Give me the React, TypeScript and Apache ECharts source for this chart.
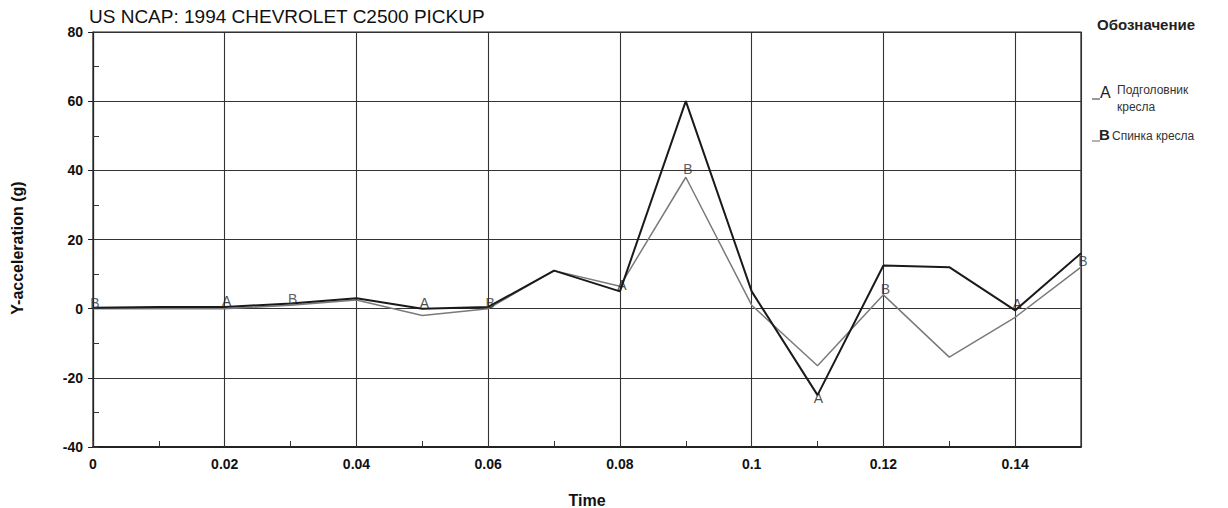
import React, { useEffect, useRef } from "react";
import * as echarts from "echarts";

const times = [0, 0.01, 0.02, 0.03, 0.04, 0.05, 0.06, 0.07, 0.08, 0.09, 0.1, 0.11, 0.12, 0.13, 0.14, 0.15];
const headRest = [0.3, 0.5, 0.5, 1.5, 3, 0, 0.5, 11, 5, 60, 5, -25, 12.5, 12, -0.5, 16];
const seatBack = [0, 0, 0, 1, 2.5, -2, 0, 11, 6.5, 38, 1, -16.5, 4, -14, -2.5, 12];
const markerA = [2, 5, 8, 11, 14]; // indices where "A" letter is drawn
const markerB = [0, 3, 6, 9, 12, 15]; // indices where "B" letter is drawn
const xTickLabels = ["0", "0.02", "0.04", "0.06", "0.08", "0.1", "0.12", "0.14"];
const title = "US NCAP: 1994 CHEVROLET C2500 PICKUP";
const yName = "Y-acceleration (g)";
const xName = "Time";
const legendTitle = "Обозначение";
const legendA = ["Подголовник", "кресла"];
const legendB = "Спинка кресла";

const FONT = "Liberation Sans, Arial, sans-serif";

export default function App() {
  const ref = useRef<HTMLDivElement>(null);
  useEffect(() => {
    if (!ref.current) return;
    const chart = echarts.init(ref.current, null, { renderer: "svg" });
    const lineA = times.map((t, i) => [t, headRest[i]]);
    const lineB = times.map((t, i) => [t, seatBack[i]]);
    const letter = (idx: number[], vals: number[], txt: string) =>
      idx.map((i) => ({
        value: [times[i], vals[i]],
        label: {
          show: true,
          formatter: txt,
          position: "inside",
          offset: vals[i] < -20 ? [1, 3] : vals[i] > 30 ? [2, -8] : [2, -6],
        },
      }));
    chart.setOption({
      animation: false,
      backgroundColor: "#fff",
      textStyle: { fontFamily: FONT },
      grid: {
        left: 93,
        right: 147,
        top: 32,
        bottom: 61,
        show: true,
        borderColor: "#222",
        borderWidth: 1.2,
        containLabel: false,
        outerBoundsMode: "none",
      },
      graphic: [
        { type: "text", left: 89, top: 7, style: { text: title, font: "19px " + FONT, fill: "#111" } },
        {
          type: "text",
          x: 17,
          y: 248,
          rotation: Math.PI / 2,
          style: { text: yName, font: "bold 16px " + FONT, fill: "#111", align: "center", verticalAlign: "middle" },
        },
        { type: "text", left: 1097, top: 17, style: { text: legendTitle, font: "bold 15px " + FONT, fill: "#222" } },
        { type: "line", shape: { x1: 1092, y1: 99, x2: 1100, y2: 99 }, style: { stroke: "#333", lineWidth: 1 } },
        { type: "text", left: 1100, top: 84, style: { text: "A", font: "16px " + FONT, fill: "#222" } },
        { type: "text", left: 1117, top: 84, style: { text: legendA[0], font: "12px " + FONT, fill: "#333" } },
        { type: "text", left: 1117, top: 101, style: { text: legendA[1], font: "12px " + FONT, fill: "#333" } },
        { type: "line", shape: { x1: 1092, y1: 141, x2: 1100, y2: 141 }, style: { stroke: "#666", lineWidth: 1 } },
        { type: "text", left: 1099, top: 127, style: { text: "B", font: "bold 15px " + FONT, fill: "#222" } },
        { type: "text", left: 1112, top: 130, style: { text: legendB, font: "12px " + FONT, fill: "#333" } },
      ],
      xAxis: [
        {
          type: "value",
          min: 0,
          max: 0.15,
          interval: 0.02,
          name: xName,
          nameLocation: "middle",
          nameGap: 45,
          nameTextStyle: { fontWeight: "bold", fontSize: 16, color: "#111", fontFamily: FONT },
          axisLine: { show: true, onZero: false, lineStyle: { color: "#222", width: 1.8 } },
          axisTick: { show: false },
          axisLabel: {
            color: "#111",
            fontSize: 14,
            fontWeight: "bold",
            fontFamily: FONT,
            margin: 10,
            showMaxLabel: false,
            formatter: (v: number) => {
              const k = Math.round(v / 0.02);
              return v > 0.145 ? "" : xTickLabels[k] ?? "";
            },
          },
          splitLine: { show: true, lineStyle: { color: "#333", width: 1.1 } },
        },
        {
          type: "value",
          min: 0,
          max: 0.15,
          interval: 0.01,
          position: "bottom",
          axisLine: { show: false, onZero: false },
          axisTick: { show: true, inside: true, length: 6, lineStyle: { color: "#333" } },
          axisLabel: { show: false },
          splitLine: { show: false },
        },
      ],
      yAxis: [
        {
          type: "value",
          min: -40,
          max: 80,
          interval: 20,
          axisLine: { show: true, onZero: false, lineStyle: { color: "#222", width: 1.2 } },
          axisTick: { show: true, length: 5, lineStyle: { color: "#222" } },
          axisLabel: { color: "#111", fontSize: 14, fontWeight: "bold", fontFamily: FONT, margin: 10 },
          splitLine: { show: true, lineStyle: { color: "#333", width: 1.1 } },
        },
        {
          type: "value",
          min: -40,
          max: 80,
          interval: 10,
          position: "left",
          axisLine: { show: false, onZero: false },
          axisTick: { show: true, inside: true, length: 6, lineStyle: { color: "#333" } },
          axisLabel: { show: false },
          splitLine: { show: false },
        },
      ],
      series: [
        {
          type: "line",
          name: "A",
          data: lineA,
          showSymbol: false,
          symbol: "none",
          lineStyle: { color: "#1a1a1a", width: 2 },
          z: 3,
        },
        {
          type: "line",
          name: "B",
          data: lineB,
          showSymbol: false,
          symbol: "none",
          lineStyle: { color: "#7a7a7a", width: 1.5 },
          z: 2,
        },
        {
          type: "scatter",
          symbolSize: 0,
          data: letter(markerA, headRest, "A"),
          label: { color: "#1a1a1a", fontSize: 14, fontFamily: FONT },
          z: 4,
        },
        {
          type: "scatter",
          symbolSize: 0,
          data: letter(markerB, seatBack, "B"),
          label: { color: "#333", fontSize: 14, fontFamily: FONT },
          z: 4,
        },
      ],
    });
    return () => chart.dispose();
  }, []);
  return <div ref={ref} style={{ width: 1228, height: 508, position: "absolute", left: 0, top: 0 }} />;
}
